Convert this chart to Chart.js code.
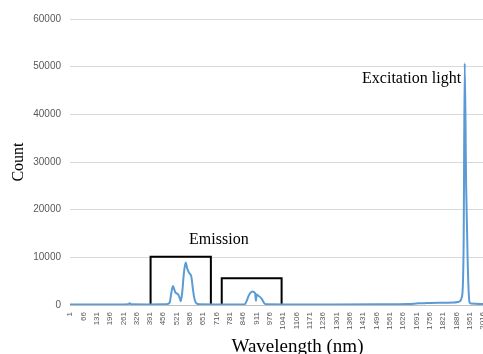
<!DOCTYPE html>
<html>
<head>
<meta charset="utf-8">
<script src="https://cdn.jsdelivr.net/npm/chart.js@4.4.1/dist/chart.umd.min.js"></script>
<style>
    html, body { margin: 0; padding: 0; overflow: hidden; background: #fff; }
    #wrap { position: relative; width: 525px; height: 354px; }
</style>
</head>
<body>
<div id="wrap"><canvas id="spectrum"></canvas></div>
<script>
// spectrum (pixel index -> count)
const wavelengths = [1, 60, 150, 230, 285, 292, 300, 380, 470, 487, 495, 503, 510, 516, 528, 536, 541, 548, 556, 565, 573, 581, 593, 600, 606, 617, 633,
    720, 800, 853, 862, 872, 882, 890, 898, 904, 908, 911, 921, 930, 936, 948, 960,
    1100, 1300, 1500, 1650, 1700, 1739, 1800, 1877, 1898, 1914, 1921, 1926, 1933, 1940, 1945, 1950, 1957, 2016, 2100, 2220];
const counts = [120, 100, 130, 110, 150, 350, 140, 120, 150, 500, 2500, 4000, 3200, 2600, 2250, 1500, 800, 2500, 6500, 8900, 7600, 6800, 5900, 3500, 1700, 350, 150,
    130, 120, 150, 800, 1900, 2600, 2850, 2700, 2400, 900, 2200, 1900, 1600, 1300, 400, 150,
    120, 130, 150, 200, 350, 400, 450, 500, 700, 2100, 14000, 50700, 25000, 10000, 3000, 500, 300, 200, 180, 180];

const tickLabels = [1, 66, 131, 196, 261, 326, 391, 456, 521, 586, 651, 716, 781, 846, 911, 976, 1041,
    1106, 1171, 1236, 1301, 1366, 1431, 1496, 1561, 1626, 1691, 1756, 1821, 1886, 1951, 2016];

// the two boxes around the emission bands
const boxOneX = [394, 394, 688, 688];
const boxOneY = [0, 10100, 10100, 0];
const boxTwoX = [741, 741, 1033, 1033];
const boxTwoY = [0, 5600, 5600, 0];

const noteTexts = ['Emission', 'Excitation light'];
const noteX = [727, 1667];
const noteY = [12800, 46500];

function toPoints(xs, ys) {
    return xs.map((x, i) => ({ x: x, y: ys[i] }));
}

const notesPlugin = {
    id: 'notes',
    afterDatasetsDraw(chart) {
        const ctx = chart.ctx;
        const xScale = chart.scales.x;
        const yScale = chart.scales.y;
        ctx.save();
        ctx.font = '16px "Liberation Serif", "Times New Roman", serif';
        ctx.fillStyle = '#000';
        ctx.textAlign = 'center';
        ctx.textBaseline = 'alphabetic';
        noteTexts.forEach((t, i) => {
            ctx.fillText(t, xScale.getPixelForValue(noteX[i]), yScale.getPixelForValue(noteY[i]));
        });
        ctx.restore();
    }
};

const ctx = document.getElementById('spectrum').getContext('2d');
new Chart(ctx, {
    type: 'line',
    data: {
        datasets: [{
            data: toPoints(wavelengths, counts),
            borderColor: '#5b9bd5',
            borderWidth: 2,
            pointRadius: 0,
            cubicInterpolationMode: 'monotone',
            order: 1
        }, {
            data: toPoints(boxOneX, boxOneY),
            borderColor: '#000',
            borderWidth: 2,
            pointRadius: 0,
            tension: 0,
            order: 2
        }, {
            data: toPoints(boxTwoX, boxTwoY),
            borderColor: '#000',
            borderWidth: 2,
            pointRadius: 0,
            tension: 0,
            order: 2
        }]
    },
    options: {
        responsive: true,
        maintainAspectRatio: false,
        animation: false,
        devicePixelRatio: 1,
        layout: { padding: { top: 19, right: 0, bottom: 0, left: 0 } },
        plugins: {
            legend: { display: false },
            tooltip: { enabled: false }
        },
        scales: {
            x: {
                type: 'linear',
                min: 1,
                max: 2220,
                afterBuildTicks: scale => {
                    scale.ticks = tickLabels.map(v => ({ value: v }));
                },
                afterFit: scale => { scale.height = 49; },
                grid: { display: false, drawTicks: false },
                border: { display: true, color: '#bfbfbf', width: 1 },
                ticks: {
                    autoSkip: false,
                    minRotation: 90,
                    maxRotation: 90,
                    padding: 7,
                    color: '#595959',
                    font: { family: '"Liberation Sans", Arial, sans-serif', size: 8 },
                    callback: v => String(v)
                },
                title: {
                    display: true,
                    text: 'Wavelength (nm)',
                    color: '#000',
                    font: { family: '"Liberation Serif", "Times New Roman", serif', size: 19 },
                    padding: { top: 0, bottom: -4 }
                }
            },
            y: {
                min: 0,
                max: 60000,
                afterFit: scale => { scale.width = 70; },
                grid: { color: '#d9d9d9', lineWidth: 1, drawTicks: false },
                border: { display: false },
                ticks: {
                    stepSize: 10000,
                    padding: 9,
                    color: '#595959',
                    font: { family: '"Liberation Sans", Arial, sans-serif', size: 10 },
                    callback: v => String(v)
                },
                title: {
                    display: true,
                    text: 'Count',
                    color: '#000',
                    font: { family: '"Liberation Serif", "Times New Roman", serif', size: 16 },
                    padding: { top: 9, bottom: 0 }
                }
            }
        }
    },
    plugins: [notesPlugin]
});
</script>
</body>
</html>
